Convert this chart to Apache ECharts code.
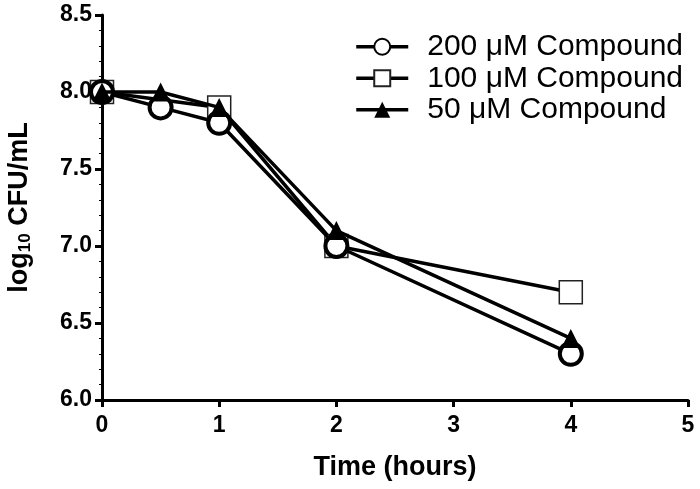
<!DOCTYPE html>
<html>
<head>
<meta charset="utf-8">
<script src="https://cdn.jsdelivr.net/npm/echarts@6/dist/echarts.min.js"></script>
<style>
  html, body { margin: 0; padding: 0; background: #fff; }
  #chart { width: 700px; height: 489px; }
</style>
</head>
<body>
<div id="chart"></div>
<script>
// time points (hours) and log10 CFU/mL readings
var time200 = [0, 0.5, 1, 2, 4];
var cfu200 = [8.0, 7.9, 7.8, 7.0, 6.3];
var time100 = [0, 1, 2, 4];
var cfu100 = [8.0, 7.9, 7.0, 6.7];
var time50 = [0, 0.5, 1, 2, 4];
var cfu50 = [8.0, 8.0, 7.9, 7.1, 6.4];
var seriesNames = ["200 \u03bcM Compound", "100 \u03bcM Compound", "50 \u03bcM Compound"];
var yTicks = [6.0, 6.5, 7.0, 7.5, 8.0, 8.5];

function pairs(xs, ys) {
  return xs.map(function (x, i) { return [x, ys[i]]; });
}

var myChart = echarts.init(document.getElementById("chart"));
var font = "Liberation Sans, Arial, sans-serif";

var option = {
  animation: false,
  grid: { left: 102, right: 12, top: 15, bottom: 89, containLabel: false, outerBoundsMode: "none" },
  legend: {
    data: seriesNames,
    orient: "vertical",
    right: 12,
    top: 26,
    itemWidth: 52,
    itemHeight: 20,
    itemGap: 0,
    lineStyle: { width: 3.5, color: "#000" },
    textStyle: { fontFamily: font, fontSize: 30, lineHeight: 31.5, color: "#000", padding: [0, 0, 0, 14] },
  },
  xAxis: {
    type: "value",
    min: 0,
    max: 5,
    interval: 1,
    name: "Time (hours)",
    nameLocation: "middle",
    nameGap: 54,
    nameTextStyle: { fontFamily: font, fontSize: 27, fontWeight: "bold", color: "#000" },
    axisLine: { lineStyle: { color: "#000", width: 3 } },
    axisTick: { length: 7, lineStyle: { color: "#000", width: 3 } },
    minorTick: { show: true, splitNumber: 5, length: 2, lineStyle: { color: "#000", width: 1 } },
    axisLabel: { fontFamily: font, fontSize: 23, fontWeight: "bold", color: "#000", margin: 14 },
    splitLine: { show: false },
  },
  yAxis: {
    type: "value",
    min: yTicks[0],
    max: yTicks[yTicks.length - 1],
    interval: 0.5,
    name: "{a|log}{b|10}{a| CFU/mL}",
    nameLocation: "middle",
    nameGap: 68,
    nameTextStyle: {
      rich: {
        a: { fontFamily: font, fontSize: 27, fontWeight: "bold", color: "#000" },
        b: { fontFamily: font, fontSize: 17, fontWeight: "bold", color: "#000", padding: [12, 0, 0, 0] },
      },
    },
    axisLine: { show: true, lineStyle: { color: "#000", width: 3 } },
    axisTick: { show: true, length: 7, lineStyle: { color: "#000", width: 3 } },
    minorTick: { show: true, splitNumber: 5, length: 3, lineStyle: { color: "#000", width: 1 } },
    axisLabel: {
      fontFamily: font, fontSize: 23, fontWeight: "bold", color: "#000", margin: 10,
      formatter: function (v) { return v.toFixed(1); },
    },
    splitLine: { show: false },
  },
  series: [
    {
      name: seriesNames[0],
      type: "line",
      data: pairs(time200, cfu200),
      symbol: "circle",
      symbolSize: 22,
      color: "#000",
      itemStyle: { color: "#fff", borderColor: "#000", borderWidth: 4 },
      lineStyle: { color: "#000", width: 3.5 },
      z: 3,
    },
    {
      name: seriesNames[1],
      type: "line",
      data: pairs(time100, cfu100),
      symbol: "rect",
      symbolSize: 23,
      color: "#000",
      itemStyle: { color: "#fff", borderColor: "#222", borderWidth: 1.5 },
      lineStyle: { color: "#000", width: 3.5 },
      z: 2,
    },
    {
      name: seriesNames[2],
      type: "line",
      data: pairs(time50, cfu50),
      symbol: "triangle",
      symbolSize: 19,
      color: "#000",
      itemStyle: { color: "#000" },
      lineStyle: { color: "#000", width: 3.5 },
      z: 4,
    },
  ],
};

myChart.setOption(option);
</script>
</body>
</html>
